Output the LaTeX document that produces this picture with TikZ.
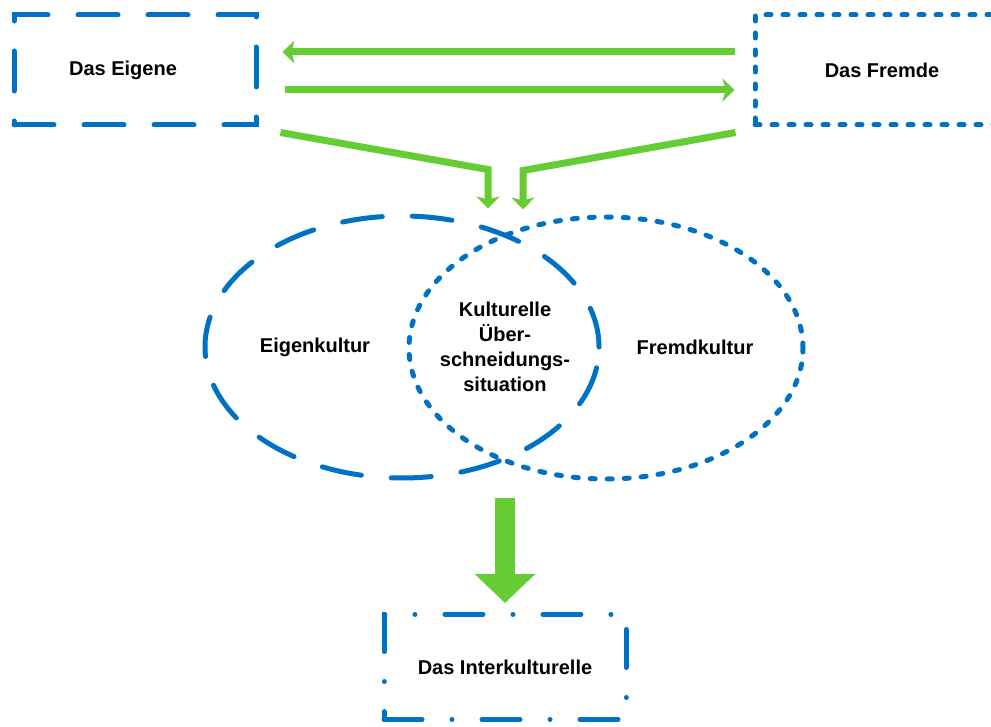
\documentclass[tikz,border=0pt]{standalone}
\usepackage{fontspec}
\setmainfont{Liberation Sans}
\usetikzlibrary{arrows.meta,calc,shapes.geometric}
\definecolor{kblau}{RGB}{0,114,198}
\definecolor{kgruen}{RGB}{102,204,51}
\tikzset{
  eigenlinie/.style={draw=kblau, line width=5pt, line cap=round, dash pattern=on 40pt off 30pt},
  fremdlinie/.style={draw=kblau, line width=5pt, line cap=round, dash pattern=on 5pt off 12pt},
  interlinie/.style={draw=kblau, line width=5pt, line cap=round, dash pattern=on 38pt off 30pt on 0.01pt off 30pt},
  kasten/.style={rectangle, minimum width=242pt, minimum height=110pt, inner sep=0pt},
  kultur/.style={ellipse, minimum width=394pt, minimum height=262pt, inner sep=0pt},
  pfeil/.style={draw=kgruen, line width=7pt, -{Stealth[length=12pt, width=23pt, inset=3pt]}},
  schrift/.style={font=\bfseries\fontsize{20}{25}\selectfont, align=center},
}

\begin{document}
\begin{tikzpicture}[x=1pt, y=-1pt]
\useasboundingbox (0,0) rectangle (991,727);
\clip (0,0) rectangle (991,727);

% oben
\node[kasten, eigenlinie] (eigene) at (135,70) {};
\node[schrift] (teigene) at (123,70) {Das Eigene};
\node[kasten, fremdlinie] (fremde) at (876,70) {};
\node[schrift] (tfremde) at (882,70) {Das Fremde};

\draw[pfeil, shorten <=18pt, shorten >=24pt] ([yshift=18pt]fremde.west) -- ([yshift=18pt]eigene.east);
\draw[pfeil, shorten <=26pt, shorten >=18pt] ([yshift=-20pt]eigene.east) -- ([yshift=-20pt]fremde.west);

% Mitte
\node[kultur, eigenlinie] (eigenkultur) at (402,347) {};
\node[kultur, fremdlinie] (fremdkultur) at (606,348) {};
\node[schrift] (teigenk) at (315,347) {Eigenkultur};
\node[schrift] (tfremdk) at (695,347) {Fremdkultur};
\node[schrift] (tueber) at (505,347) {Kulturelle\\Über-\\schneidungs-\\situation};

\draw[pfeil] ($(eigene.south east)+(22,5)$) -- ($(eigenkultur.north)+(86,-44)$) -- ($(eigenkultur.north)+(86,-5)$);
\draw[pfeil] ($(fremde.south west)+(-17,5)$) -- ($(fremdkultur.north)+(-83,-44)$) -- ($(fremdkultur.north)+(-83,-5)$);

% unten
\node[kasten, minimum height=105pt, interlinie, schrift] (inter) at (505,667) {Das Interkulturelle};
\draw[kgruen, line width=20pt, -{Triangle[length=29pt, width=59pt]}, shorten <=17pt, shorten >=9pt]
  (inter.north |- eigenkultur.south) -- (inter.north);
\end{tikzpicture}
\end{document}
